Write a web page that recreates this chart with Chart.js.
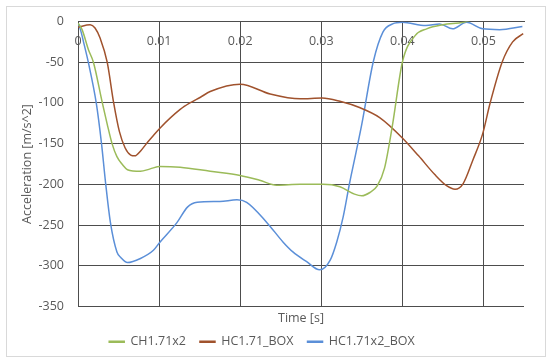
<!DOCTYPE html>
<html>
<head>
<meta charset="utf-8">
<script src="https://cdn.jsdelivr.net/npm/chart.js@4"></script>
<style>
  html, body { margin: 0; padding: 0; background: #ffffff; }
  #wrap { position: relative; width: 550px; height: 362px; }
  #frame { position: absolute; left: 6px; top: 6px; width: 538px; height: 349px; border: 1px solid #d9d9d9; pointer-events: none; }
  canvas { position: absolute; left: 0; top: 0; }
</style>
</head>
<body>
<div id="wrap">
  <canvas id="c" width="550" height="362"></canvas>
  <div id="frame"></div>
</div>
<script>
const seriesNames = ['CH1.71x2', 'HC1.71_BOX', 'HC1.71x2_BOX'];

const timeCH = [0, 0.0005, 0.0013, 0.0019, 0.003, 0.0036, 0.0042, 0.0048, 0.0055, 0.0061, 0.0077, 0.0089, 0.0101, 0.0126, 0.0163, 0.02, 0.0224, 0.0245, 0.0274, 0.0302, 0.0323, 0.0341, 0.035, 0.036, 0.0369, 0.0378, 0.0388, 0.04, 0.0416, 0.043, 0.045, 0.0475, 0.049, 0.052, 0.055];
const accCH  = [-2, -10, -35, -50, -100, -126, -150, -166, -176, -182, -184, -181, -178, -179, -184, -189, -195, -201, -200, -200, -203, -212, -214, -210, -202, -180, -126, -50, -17, -9, -4, -1, 3, 5, 5];

const timeBOX = [0, 0.0015, 0.0021, 0.00275, 0.0036, 0.0044, 0.0051, 0.0058, 0.0065, 0.007, 0.0078, 0.0086, 0.0093, 0.0101, 0.0126, 0.0138, 0.0151, 0.0163, 0.02, 0.0237, 0.0274, 0.0301, 0.0323, 0.0348, 0.0372, 0.04, 0.042, 0.044, 0.0455, 0.0465, 0.0475, 0.0487, 0.0499, 0.0508, 0.0523, 0.0536, 0.0549];
const accBOX  = [-7, -4, -8, -21, -50, -100, -135, -155, -164, -165, -158, -148, -140, -131, -108, -100, -93, -86, -77, -89, -95, -94, -98, -106, -118, -143, -165, -188, -202, -206, -199, -170, -138, -101, -50, -25, -15];

const timeX2BOX = [0, 0.0003, 0.0008, 0.00127, 0.00225, 0.0029, 0.0034, 0.004, 0.0048, 0.0053, 0.0061, 0.0077, 0.0093, 0.0101, 0.0122, 0.0135, 0.0147, 0.0175, 0.0196, 0.0208, 0.0233, 0.0253, 0.0265, 0.0282, 0.0298, 0.0311, 0.0319, 0.0327, 0.0335, 0.0343, 0.035, 0.0364, 0.0376, 0.0388, 0.04, 0.0429, 0.0446, 0.0462, 0.0479, 0.0499, 0.052, 0.0548];
const accX2BOX  = [-2, -10, -30, -50, -100, -150, -198, -247, -283, -290, -296, -291, -281, -271, -247, -228, -222, -221, -219, -222, -247, -271, -283, -295, -305, -293, -271, -240, -198, -160, -126, -50, -13, -3, -1, -5, -3, -9, -1, -9, -10, -6];

const xTickValues = [0, 0.01, 0.02, 0.03, 0.04, 0.05];
const yTickValues = [0, -50, -100, -150, -200, -250, -300, -350];

const colors = ['#9BBB59', '#A0522D', '#5B8FD8'];
const FONT = { family: "'Open Sans', sans-serif", size: 12.5 };
const TEXT = '#595959';
const GRID = '#4d4d4d';

function pts(t, a) { return t.map((v, i) => ({ x: v, y: a[i] })); }
const allSeries = [pts(timeCH, accCH), pts(timeBOX, accBOX), pts(timeX2BOX, accX2BOX)];

new Chart(document.getElementById('c'), {
  type: 'line',
  data: {
    datasets: allSeries.map((d, i) => ({
      label: seriesNames[i],
      data: d,
      borderColor: colors[i],
      backgroundColor: colors[i],
      borderWidth: 1.5,
      pointRadius: 0,
      fill: false,
      cubicInterpolationMode: 'monotone'
    }))
  },
  options: {
    responsive: false,
    animation: false,
    layout: { padding: { left: 0, right: 26, top: 16, bottom: 4 } },
    plugins: {
      legend: {
        position: 'bottom',
        labels: {
          font: FONT, color: TEXT, boxWidth: 15, boxHeight: 1, padding: 14
        }
      },
      tooltip: { enabled: false }
    },
    scales: {
      x: {
        type: 'linear',
        min: 0, max: 0.055,
        position: { y: 0 },
        afterBuildTicks: s => { s.ticks = xTickValues.map(v => ({ value: v })); },
        ticks: {
          font: FONT, color: TEXT, padding: 12, maxRotation: 0,
          callback: v => String(+v.toFixed(3))
        },
        grid: { color: GRID, drawTicks: false },
        border: { display: true, color: GRID }
      },
      xt: {
        type: 'linear',
        position: 'bottom',
        min: 0, max: 0.055,
        ticks: { display: false },
        grid: { display: false, drawTicks: false },
        border: { display: false },
        title: { display: true, text: 'Time [s]', font: FONT, color: TEXT, padding: { top: 0, bottom: -4 } },
        afterFit: s => { s.height = 15; }
      },
      y: {
        type: 'linear',
        min: -350, max: 0,
        position: 'left',
        afterBuildTicks: s => { s.ticks = yTickValues.map(v => ({ value: v })); },
        ticks: { font: FONT, color: TEXT, padding: 14 },
        grid: { color: GRID, drawTicks: false },
        border: { display: true, color: GRID },
        title: { display: true, text: 'Acceleration [m/s^2]', font: FONT, color: TEXT, padding: { top: 20, bottom: 0 } },
        afterFit: s => { s.width = 78; }
      }
    }
  }
});
</script>
</body>
</html>
